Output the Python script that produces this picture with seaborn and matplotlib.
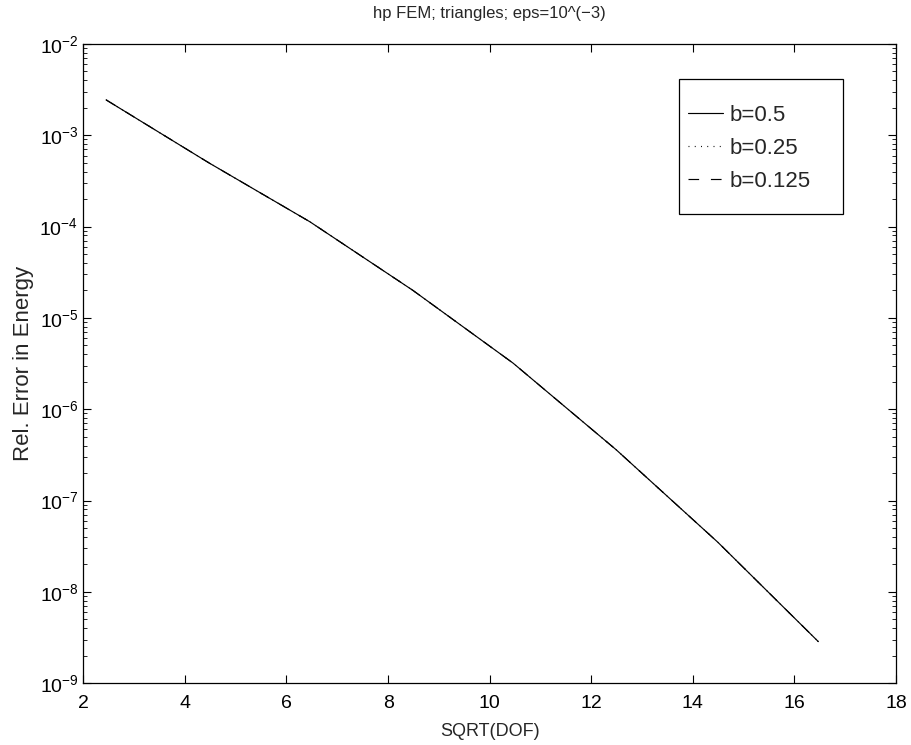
import numpy as np
import pandas as pd
import matplotlib
matplotlib.use('Agg')
import matplotlib.pyplot as plt
import matplotlib.patches as patches
import seaborn as sns
from matplotlib.ticker import FixedLocator, MultipleLocator, NullFormatter

sns.set_style('ticks')
plt.rcParams['font.family'] = ['Liberation Sans', 'DejaVu Sans']
plt.rcParams['mathtext.fontset'] = 'custom'
plt.rcParams['mathtext.rm'] = 'Liberation Sans'
plt.rcParams['mathtext.it'] = 'Liberation Sans:italic'

# Data (sqrt of DOF vs relative energy error)
sqrt_dof = [2.45, 4.47, 6.46, 8.49, 10.46, 12.49, 14.49, 16.47]
err_b05 = [2.44e-3, 5.0e-4, 1.13e-4, 2.0e-5, 3.2e-6, 3.6e-7, 3.5e-8, 2.85e-9]
err_b025 = [2.44e-3, 5.0e-4, 1.13e-4, 2.0e-5, 3.2e-6, 3.6e-7, 3.5e-8, 2.85e-9]
err_b0125 = [2.44e-3, 5.0e-4, 1.13e-4, 2.0e-5, 3.2e-6, 3.6e-7, 3.5e-8, 2.85e-9]
labels = ['b=0.5', 'b=0.25', 'b=0.125']

df = pd.concat([
    pd.DataFrame({'x': sqrt_dof, 'err': e, 'b': lab})
    for e, lab in zip([err_b05, err_b025, err_b0125], labels)
])

fig = plt.figure(figsize=(9.11, 7.45), dpi=100)
ax = fig.add_axes([0.0914, 0.083, 0.8922, 0.858])

sns.lineplot(data=df, x='x', y='err', hue='b', style='b',
             palette={l: 'black' for l in labels},
             dashes={'b=0.5': '', 'b=0.25': (0.8, 4.5), 'b=0.125': (9, 10)},
             linewidth=0.85, ax=ax, sort=False, legend=True)

ax.set_yscale('log')
ax.set_xlim(2, 18)
ax.set_ylim(1e-9, 1e-2)
ax.xaxis.set_major_locator(MultipleLocator(2))
# only ticks inside the visible decades
decades = range(-9, -1)
ax.yaxis.set_major_locator(FixedLocator([10.0 ** e for e in decades]))
ax.yaxis.set_minor_locator(FixedLocator([m * 10.0 ** e for e in range(-9, -2)
                                         for m in range(2, 10)]))
ax.yaxis.set_minor_formatter(NullFormatter())

ax.tick_params(which='both', direction='in', top=True, right=True,
               labelsize=14, colors='black')
ax.tick_params(which='major', length=6, width=0.8)
ax.tick_params(which='minor', length=3, width=0.6)
ax.tick_params(axis='x', which='minor', top=False, bottom=False)
ax.tick_params(axis='x', which='major', pad=8.5)
for s in ax.spines.values():
    s.set_color('black')
    s.set_linewidth(0.9)
    s.set_visible(True)

ax.set_xlabel('SQRT(DOF)', fontsize=13, labelpad=8)
ax.set_ylabel('Rel. Error in Energy', fontsize=16, labelpad=4)
ax.set_title('hp FEM; triangles; eps=10^(\u22123)', fontsize=12, pad=18.5)

# legend: MATLAB-style box with generous vertical padding
leg = ax.legend(loc='center left', bbox_to_anchor=(0.7441, 0.8365),
                fontsize=16, frameon=False, handlelength=1.58,
                handletextpad=0.3, labelspacing=0.55, borderpad=0,
                borderaxespad=0)
ax.add_patch(patches.Rectangle((0.7334, 0.734), 0.2018, 0.211,
                               transform=ax.transAxes, fill=False,
                               edgecolor='black', linewidth=0.9))

fig.savefig('out.png', dpi=100)
